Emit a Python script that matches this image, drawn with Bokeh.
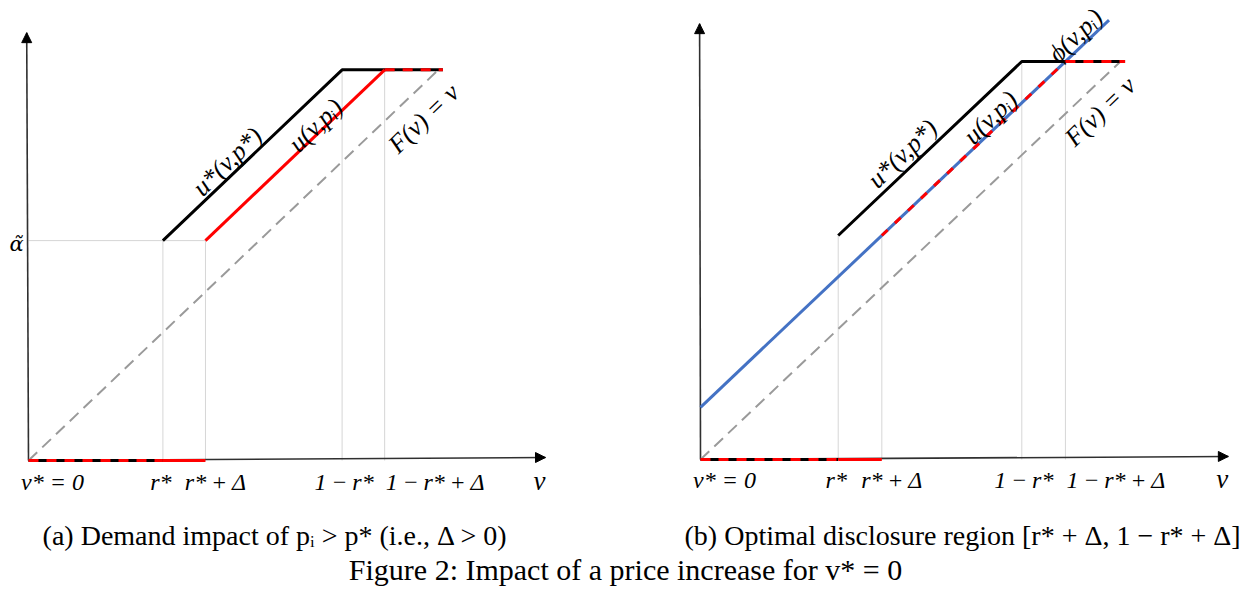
from bokeh.plotting import figure
from bokeh.layouts import column, row
from bokeh.models import ColumnDataSource, Arrow, NormalHead
from bokeh.embed import file_html
from bokeh.resources import INLINE
from bokeh.core.properties import value

# ---------------- data (conceptual diagram, unit interval) ----------------
r_star = 0.3            # r*
delta = 0.095           # Δ
alpha_tilde = 0.515     # α̃  (level of u* at r*)
top_level = 0.915       # plateau level
v_end = 0.925           # end of the plateau

T = "\u2009"  # thin space
tick_v = [0.0, 0.3, 0.395, 0.7]
tick_labels = ["v* = 0", "r*", "r*" + T + "+" + T + "Δ", "1" + T + "−" + T + "r*"]
tick_dx = [24, -2, 10, 2]
tick_last_v = 0.795
tick_last_label = "1" + T + "−" + T + "r*" + T + "+" + T + "Δ"

grid_v = [0.3, 0.395, 0.7, 0.795]
grid_top = [0.515, 0.515, 0.915, 0.915]

# u*(v,p*) : rising part and plateau
ustar_v = [0.3, 0.7, 0.925]
ustar_y = [0.515, 0.915, 0.915]
# u(v,p_i)
ui_v = [0.395, 0.795]
ui_y = [0.515, 0.915]
ui_plateau_v = [0.795, 0.925]
# zero-demand segments on the v axis
zero_dash_v = [0.0, 0.3]
zero_red_v = [0.3, 0.395]

F_v = [0.0, 0.915]
phi_v = [0.0, 0.89]
phi_y = [0.12, 1.01]

FONT = "Liberation Serif"


def make_panel(width, height, x0, x1, y0, y1, ax_x_end, ax_x_tilt, ax_y_end, ax_y_tilt,
               panel_b, curve_labels, caption, caption_xy):
    p = figure(width=width, height=height, x_range=(x0, x1), y_range=(y0, y1),
               x_axis_type=None, y_axis_type=None, toolbar_location=None,
               output_backend="svg", min_border=0, outline_line_color=None,
               background_fill_color="white", border_fill_color="white")
    p.grid.visible = False

    # thin guide lines
    p.segment(x0=grid_v, y0=[0] * len(grid_v), x1=grid_v, y1=grid_top,
              line_color="#d6d6d6", line_width=1)
    if not panel_b:
        p.segment(x0=[0.0], y0=[alpha_tilde], x1=[r_star + delta], y1=[alpha_tilde],
                  line_color="#d6d6d6", line_width=1)

    # axes
    p.segment(x0=[0, 0], y0=[0, 0], x1=[ax_x_end, ax_y_tilt], y1=[ax_x_tilt, ax_y_end],
              line_color="#303030", line_width=1.6)
    p.add_layout(Arrow(end=NormalHead(size=10, fill_color="black", line_color="black"),
                       x_start=ax_x_end - 0.02, y_start=ax_x_tilt, x_end=ax_x_end, y_end=ax_x_tilt,
                       line_color="#303030", line_width=1.6))
    p.add_layout(Arrow(end=NormalHead(size=10, fill_color="black", line_color="black"),
                       x_start=ax_y_tilt, y_start=ax_y_end - 0.02, x_end=ax_y_tilt, y_end=ax_y_end,
                       line_color="#303030", line_width=1.6))

    # F(v) = v
    p.line(F_v, F_v, line_color="#9a9a9a", line_width=2, line_dash="12 7")

    # φ(v, p_i)
    if panel_b:
        p.line(phi_v, phi_y, line_color="#4472C4", line_width=3)

    # u*(v,p*)
    p.line(ustar_v, ustar_y, line_color="black", line_width=3)
    # u(v,p_i)
    if panel_b:
        p.line(ui_v, ui_y, line_color="red", line_width=3, line_dash="8 10")
    else:
        p.line(ui_v, ui_y, line_color="red", line_width=3)
    p.line(ui_plateau_v, [top_level, top_level], line_color="red", line_width=3, line_dash="10 8")

    # zero segment on axis
    p.line(zero_dash_v, [0, 0], line_color="black", line_width=3)
    p.line(zero_dash_v, [0, 0], line_color="red", line_width=3, line_dash="10 8")
    p.line(zero_red_v, [0, 0], line_color="red", line_width=3)

    # tick labels
    src = ColumnDataSource(dict(x=tick_v, y=[0] * len(tick_v), t=tick_labels, dx=tick_dx))
    p.text(x="x", y="y", text="t", x_offset="dx", y_offset=21, source=src,
           text_font=value(FONT), text_font_style="italic", text_font_size="24px",
           text_align="center", text_baseline="alphabetic", text_color="black")
    p.text(x=[tick_last_v], y=[0], text=[tick_last_label], x_offset=1, y_offset=21,
           text_font=value(FONT), text_font_style="italic", text_font_size="24px",
           text_align="left", text_baseline="alphabetic", text_color="black")
    p.text(x=[ax_x_end], y=[0], text=["v"], x_offset=-6, y_offset=20,
           text_font=value(FONT), text_font_style="italic", text_font_size="27px",
           text_align="center", text_baseline="alphabetic", text_color="black")
    if not panel_b:
        p.text(x=[0], y=[alpha_tilde], text=["α̃"], x_offset=-12, y_offset=3,
               text_font=value("DejaVu Serif"), text_font_style="italic", text_font_size="21px",
               text_align="center", text_baseline="middle", text_color="black")

    # curve labels (rotated)
    lx, ly, lt = curve_labels
    p.text(x=lx, y=ly, text=lt, angle=0.77,
           text_font=value(FONT), text_font_style="italic", text_font_size="26px",
           text_align="center", text_baseline="middle", text_color="black")

    # sub-caption
    p.text(x=[caption_xy[0]], y=[caption_xy[1]], text=[caption],
           text_font=value(FONT), text_font_size=caption_xy[2],
           text_align="center", text_baseline="middle", text_color="black")
    return p


pa = make_panel(628, 551, -0.0625, 1.3393, -0.2131, 1.0773,
                1.154, 0.007, 1.002, -0.004, False,
                ([0.444, 0.641, 0.882], [0.700, 0.785, 0.801],
                 ["u*(v,p*)", "u(v,pᵢ)", "F(v) = v"]),
                "(a) Demand impact of pᵢ > p* (i.e., Δ > 0)", (0.551, -0.1756, "28px"))

pb = make_panel(620, 551, -0.1569, 1.1939, -0.2115, 1.0552,
                1.150, 0.007, 1.002, -0.002, True,
                ([0.440, 0.632, 0.817, 0.871], [0.703, 0.786, 0.975, 0.800],
                 ["u*(v,p*)", "u(v,pᵢ)", "ϕ(v,pᵢ)", "F(v) = v"]),
                "(b) Optimal disclosure region [r* + Δ, 1 − r* + Δ]", (0.571, -0.1747, "28px"))

pc = figure(width=1248, height=39, x_range=(0, 1248), y_range=(0, 39),
            x_axis_type=None, y_axis_type=None, toolbar_location=None,
            output_backend="svg", min_border=0, outline_line_color=None)
pc.grid.visible = False
pc.text(x=[625], y=[21], text=["Figure 2: Impact of a price increase for v* = 0"],
        text_font=value(FONT), text_font_size="30px",
        text_align="center", text_baseline="middle", text_color="black")

layout = column(row(pa, pb, spacing=0), pc, spacing=0)
open("out.html", "w").write(file_html(layout, INLINE))
